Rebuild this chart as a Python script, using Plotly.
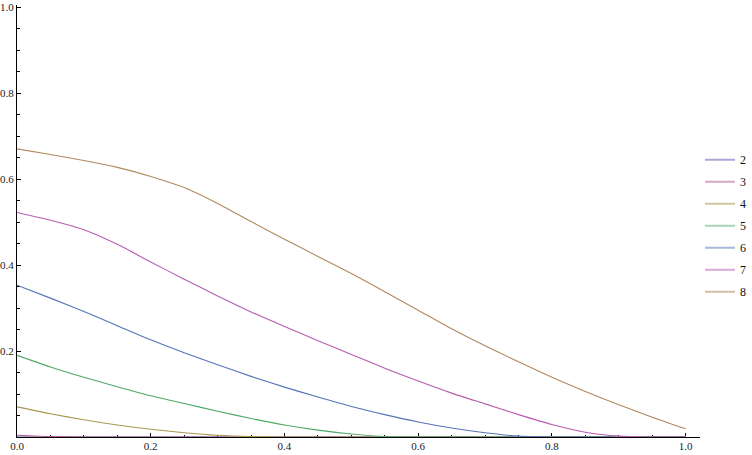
import plotly.graph_objects as go

# ---- data ----
x_vals = [0.0, 0.05, 0.1, 0.15, 0.2, 0.25, 0.3, 0.35, 0.4, 0.45, 0.5,
          0.55, 0.6, 0.65, 0.7, 0.75, 0.8, 0.85, 0.9, 0.95, 1.0]

series_names = ["2", "3", "4", "5", "6", "7", "8"]

y2 = [0.0] * 21
y3 = [0.004, 0.001, 0.0, 0.0, 0.0, 0.0, 0.0, 0.0, 0.0, 0.0, 0.0,
      0.0, 0.0, 0.0, 0.0, 0.0, 0.0, 0.0, 0.0, 0.0, 0.0]
y4 = [0.070, 0.054, 0.040, 0.028, 0.018, 0.010, 0.004, 0.001, 0.0, 0.0, 0.0,
      0.0, 0.0, 0.0, 0.0, 0.0, 0.0, 0.0, 0.0, 0.0, 0.0]
y5 = [0.190, 0.163, 0.139, 0.117, 0.096, 0.078, 0.060, 0.043, 0.028, 0.016, 0.007,
      0.001, 0.0, 0.0, 0.0, 0.0, 0.0, 0.0, 0.0, 0.0, 0.0]
y6 = [0.353, 0.323, 0.292, 0.259, 0.226, 0.196, 0.168, 0.141, 0.116, 0.093, 0.071,
      0.052, 0.035, 0.021, 0.010, 0.002, 0.0, 0.0, 0.0, 0.0, 0.0]
y7 = [0.522, 0.504, 0.482, 0.448, 0.407, 0.367, 0.328, 0.291, 0.257, 0.224, 0.192,
      0.160, 0.130, 0.102, 0.077, 0.052, 0.029, 0.011, 0.002, 0.0, 0.0]
y8 = [0.670, 0.657, 0.643, 0.627, 0.606, 0.580, 0.543, 0.501, 0.460, 0.420, 0.380,
      0.338, 0.295, 0.252, 0.212, 0.175, 0.139, 0.106, 0.075, 0.046, 0.019]

series_values = [y2, y3, y4, y5, y6, y7, y8]

x_tick_vals = [0.0, 0.2, 0.4, 0.6, 0.8, 1.0]
x_tick_text = ["0.0", "0.2", "0.4", "0.6", "0.8", "1.0"]
y_tick_vals = [0.2, 0.4, 0.6, 0.8, 1.0]
y_tick_text = ["0.2", "0.4", "0.6", "0.8", "1.0"]
minor_vals = [0.05, 0.1, 0.15, 0.25, 0.3, 0.35, 0.45, 0.5, 0.55,
              0.65, 0.7, 0.75, 0.85, 0.9, 0.95]

# ---- styles ----
line_colors = ["#5856ae", "#b05a8e", "#a8984e", "#4ea866", "#5474b8", "#b85cae", "#b08a5e"]
legend_colors = ["#a9a8d6", "#d6a8c4", "#d0c89e", "#a6d4b2", "#a8b8dc", "#d8aad4", "#d2bea2"]

fig = go.Figure()
for name, vals, col in zip(series_names, series_values, line_colors):
    fig.add_trace(go.Scatter(
        x=x_vals, y=vals, mode="lines", name=name,
        line=dict(color=col, width=1.1, shape="spline", smoothing=0.6),
        showlegend=False, hoverinfo="skip",
    ))
for name, col in zip(series_names, legend_colors):
    fig.add_trace(go.Scatter(
        x=[None], y=[None], mode="lines", name=name, legendgroup=name,
        line=dict(color=col, width=2), showlegend=True,
    ))

tick_font = dict(family="Liberation Serif, Times New Roman, serif", size=11, color="#222")

fig.update_layout(
    width=752, height=455,
    margin=dict(l=17, r=52, t=5, b=18, autoexpand=False),
    paper_bgcolor="white", plot_bgcolor="white",
    showlegend=True,
    legend=dict(
        x=1.0, xanchor="left", y=0.6755, yanchor="top",
        font=dict(family="Liberation Serif, Times New Roman, serif", size=12, color="#111"),
        tracegroupgap=3, bgcolor="rgba(0,0,0,0)", borderwidth=0,
    ),
    xaxis=dict(
        range=[0, 1.0214], showgrid=False, zeroline=False, automargin=False,
        showline=True, linecolor="black", linewidth=1,
        ticks="inside", ticklen=4, tickcolor="black", tickwidth=1,
        tickmode="array", tickvals=x_tick_vals, ticktext=x_tick_text,
        tickfont=tick_font, layer="below traces", ticklabelstandoff=-1,
        minor=dict(ticks="inside", ticklen=2.5, tickcolor="black",
                   tickmode="array", tickvals=minor_vals),
    ),
    yaxis=dict(
        range=[0, 1.0047], showgrid=False, zeroline=False, automargin=False,
        showline=True, linecolor="black", linewidth=1,
        ticks="inside", ticklen=4, tickcolor="black", tickwidth=1,
        tickmode="array", tickvals=y_tick_vals, ticktext=y_tick_text,
        tickfont=tick_font, layer="below traces",
        minor=dict(ticks="inside", ticklen=2.5, tickcolor="black",
                   tickmode="array", tickvals=minor_vals),
    ),
)

fig.write_html("out.html", config={"displayModeBar": False},
               post_script="document.body.style.margin='0';")
